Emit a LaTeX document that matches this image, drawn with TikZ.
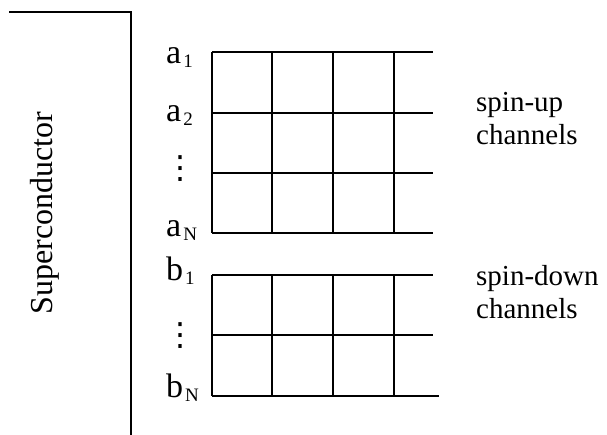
\documentclass[tikz,border=0pt]{standalone}
\usepackage{fontspec}
\setmainfont{Liberation Serif}
\newfontfamily\symfont{DejaVu Sans}
\usepackage{tikz}
\usetikzlibrary{calc}
\tikzstyle{every node}=[font=\fontsize{29}{33}\selectfont, inner sep=0pt]
\tikzstyle{wire}=[line width=1.8pt]
\tikzstyle{chlabel}=[anchor=base west, font=\fontsize{34}{34}\selectfont]
\newcommand{\chsub}[1]{\kern2pt\raisebox{-4pt}{\fontsize{19}{19}\selectfont #1}}
\newcommand{\chdots}{{\symfont\fontsize{32}{32}\selectfont ⋮}}

\begin{document}
\begin{tikzpicture}[x=1pt,y=-1pt]

                \useasboundingbox (0,0) rectangle (607,435);

                % superconductor edge
                \coordinate (S0) at (9, 12);
                \coordinate (S1) at (131, 12);
                \coordinate (S2) at (131, 435);
                \draw [wire] (S0) -- (S1) -- (S2);
                \node [rotate=90, font=\fontsize{32}{32}\selectfont] (sc) at (45, 213) {Superconductor};

                % spin-up block
                \coordinate (U) at (212, 52);
                \foreach \y in {0, 61, 121, 181}
                    \draw [wire] ($(U)+(0,\y)$) -- ($(U)+(221,\y)$);
                \foreach \x in {0, 60, 121, 182}
                    \draw [wire] ($(U)+(\x,0)$) -- ($(U)+(\x,181)$);

                % spin-down block
                \coordinate (D) at (212, 275);
                \draw [wire] (D) -- ($(D)+(221,0)$);
                \draw [wire] ($(D)+(0,60)$) -- ($(D)+(221,60)$);
                \draw [wire] ($(D)+(0,121)$) -- ($(D)+(227,121)$);
                \foreach \x in {0, 60, 121, 182}
                    \draw [wire] ($(D)+(\x,0)$) -- ($(D)+(\x,121)$);

                \node [chlabel] (a1) at (166, 64) {a\chsub{1}};
                \node [chlabel] (a2) at (166, 122) {a\chsub{2}};
                \node (ad) at (180, 169) {\chdots};
                \node [chlabel] (aN) at (166, 237) {a\chsub{N}};

                \node [chlabel] (b1) at (166, 280) {b\chsub{1}};
                \node (bd) at (180, 336) {\chdots};
                \node [chlabel] (bN) at (166, 397) {b\chsub{N}};

                \node [anchor=base west, align=left] (up) at (476, 145) {spin-up\\channels};
                \node [anchor=base west, align=left] (down) at (476, 319) {spin-down\\channels};

            \end{tikzpicture}
\end{document}
